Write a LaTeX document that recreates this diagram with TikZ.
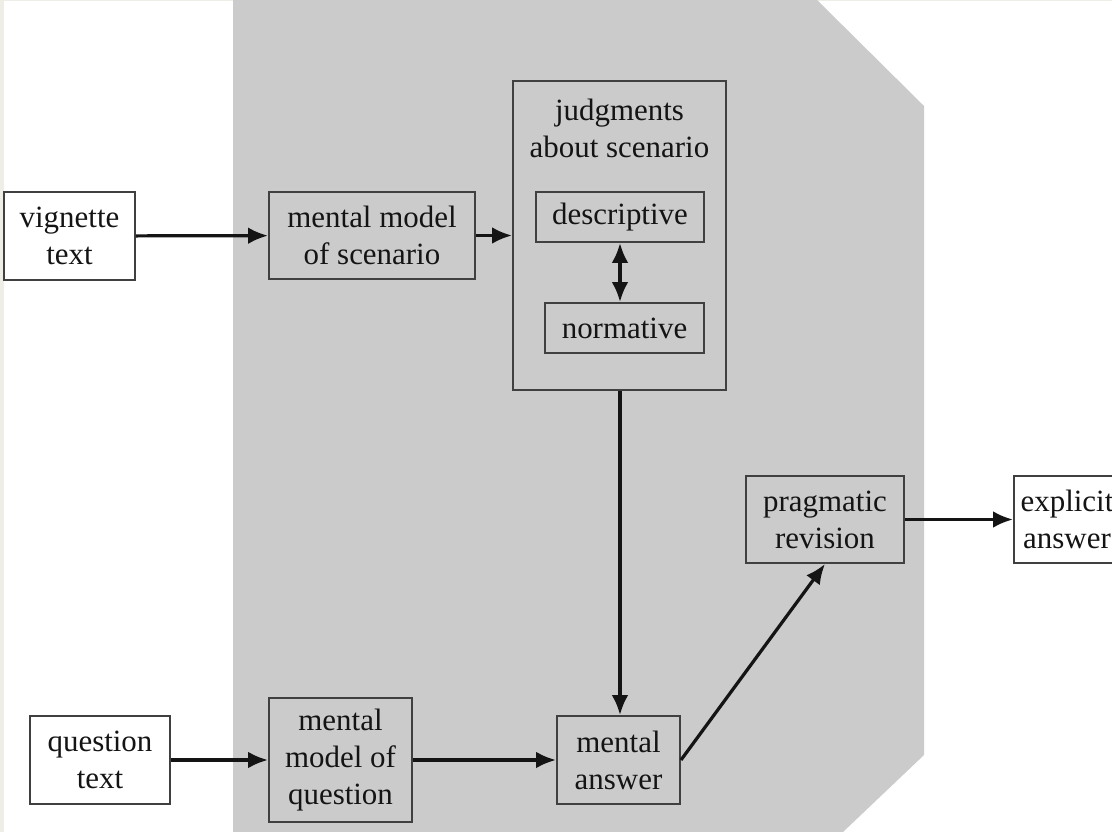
\documentclass[tikz,border=0pt]{standalone}
\usepackage{fontspec}
\setmainfont{Liberation Serif}
\usepackage{tikz}
\usetikzlibrary{arrows.meta}

\definecolor{pageframe}{HTML}{EEEDE6}
\definecolor{regiongray}{HTML}{CBCBCB}
\definecolor{boxline}{HTML}{404040}
\definecolor{ink}{HTML}{141414}

\def\px{0.025cm} % one pixel of the layout

\begin{document}
\begin{tikzpicture}[x=\px, y=-\px,
	box/.style={draw=boxline, line width=1.4pt, inner sep=0pt, align=center,
		text=ink, font=\fontsize{22}{26.3}\selectfont},
	whitebox/.style={box, fill=white},
	graybox/.style={box, fill=regiongray},
	link/.style={-{Latex[length=0.5cm, width=0.42cm]}, line width=2.3pt, draw=ink}]
	
	% page and clipping
	\useasboundingbox (0,0) rectangle (1112,832);
	\fill[pageframe] (0,0) rectangle (1112,832);
	\clip (0,0) rectangle (1112,832);
	\fill[white] (4,1) rectangle (1112,832);
	
	% gray region
	\fill[regiongray] (233,0) -- (817,0) -- (924,106) -- (924,755) -- (843,832) -- (233,832) -- cycle;
	
	% top row
	\node[whitebox, minimum width=131*\px, minimum height=88*\px] (vignette) at (69.5,236) {vignette\\text};
	\node[graybox, minimum width=206*\px, minimum height=87*\px] (scenario) at (372,235.5) {mental model\\of scenario};
	
	% judgments box with its two inner boxes
	\node[graybox, minimum width=213*\px, minimum height=309*\px] (judgments) at (619.5,235.5) {};
	\node[box, draw=none, anchor=north] (judgtitle) at ([yshift=-18*\px]judgments.north) {judgments\\about scenario};
	\node[graybox, minimum width=168*\px, minimum height=50*\px] (descriptive) at (620,217) {descriptive};
	\node[graybox, minimum width=159*\px, minimum height=50*\px] (normative) at (624.5,328) {normative};
	
	% bottom row
	\node[whitebox, minimum width=140*\px, minimum height=88*\px] (question) at (100,760) {question\\text};
	\node[graybox, minimum width=143*\px, minimum height=124*\px] (qmodel) at (340.5,760) {mental\\model of\\question};
	\node[graybox, minimum width=123*\px, minimum height=88*\px] (manswer) at (618.5,760) {mental\\answer};
	
	% revision and output
	\node[graybox, minimum width=158*\px, minimum height=87*\px] (revision) at (825,519.5) {pragmatic\\revision};
	\node[whitebox, minimum width=106*\px, minimum height=87*\px] (explicit) at (1067,519.5) {explicit\\answer};
	
	% arrows
	\draw[link] (vignette) -- (scenario);
	\draw[link] (scenario) -- (judgments);
	\draw[link, {Latex[length=0.5cm, width=0.42cm]}-{Latex[length=0.5cm, width=0.42cm]}]
		(descriptive.south -| 620,0) -- (normative.north -| 620,0);
	\draw[link] (judgments.south -| 620,0) -- (manswer.north -| 620,0);
	\draw[link] (question) -- (qmodel);
	\draw[link] (qmodel) -- (manswer);
	\draw[link] (manswer.east) -- (revision.south);
	\draw[link] (revision) -- (explicit);
\end{tikzpicture}
\end{document}
